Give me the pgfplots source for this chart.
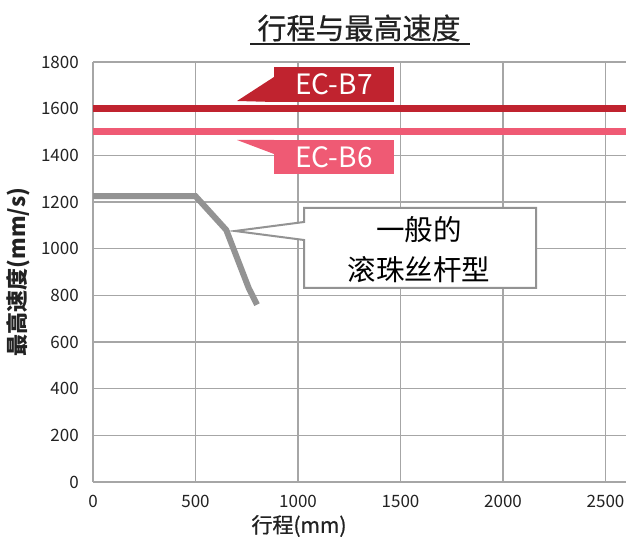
\documentclass[border=0pt]{standalone}
\usepackage{fontspec}
\setmainfont{Noto Sans CJK SC}
\newfontfamily\medfont[FakeBold=0.7]{Noto Sans CJK SC}
\usepackage{pgfplots}
\pgfplotsset{compat=1.18}
\definecolor{gridc}{HTML}{A6A6A6}
\definecolor{ecb7}{HTML}{C0232F}
\definecolor{ecb6}{HTML}{EF5A74}
\definecolor{greyl}{HTML}{939393}
\definecolor{txt}{HTML}{222222}
\begin{document}
\begin{tikzpicture}[x=1bp,y=1bp]
\path[use as bounding box] (0,0) rectangle (628,542);
\begin{axis}[
  scale only axis, width=533bp, height=420bp,
  at={(93bp,60bp)}, anchor=south west,
  xmin=0, xmax=2600, ymin=0, ymax=1800,
  xtick={0,500,...,2500}, ytick={0,200,...,1800},
  grid=major, major grid style={color=gridc, line width=1.3bp},
  axis x line=bottom, axis y line=left,
  axis line style={-, color=gridc, line width=1.3bp},
  major tick length=0pt,
  /pgf/number format/assume math mode=true,
  /pgf/number format/1000 sep={},
  tick label style={font=\fontsize{17bp}{20bp}\selectfont, text=txt},
  yticklabel style={inner sep=0pt, anchor=east, xshift=-14bp},
  xticklabel style={inner sep=0pt, anchor=north, yshift=-13bp},
  clip=false,
]
\addplot[ecb7, line width=7bp] coordinates {(0,1600) (2600,1600)};
\addplot[ecb6, line width=7bp] coordinates {(0,1500) (2600,1500)};
\addplot[greyl, line width=6bp, line join=miter, line cap=butt] coordinates {(0,1225) (500,1225) (650,1080) (760,830) (800,760)};
\end{axis}
% title
\node[text=txt, font=\fontsize{29bp}{32bp}\medfont] at (359,514) {行程与最高速度};
\draw[txt, line width=2bp] (250,498) -- (470,498);
% axis labels
\node[text=txt, font=\fontsize{21bp}{24bp}\medfont] at (299,16) {行程(mm)};
\node[text=txt, rotate=90, font=\fontsize{22bp}{24bp}\selectfont\bfseries] at (18,270) {最高速度(mm/s)};
% EC-B7 label
\fill[ecb7] (237,441) -- (274,465) -- (274,440) -- cycle;
\fill[ecb7] (274,440) rectangle (394,475);
\node[text=white, font=\fontsize{28bp}{30bp}\selectfont] at (334,457.5) {EC-B7};
% EC-B6 label
\fill[ecb6] (237,402) -- (274,402) -- (274,388) -- cycle;
\fill[ecb6] (274,368) rectangle (394,402);
\node[text=white, font=\fontsize{28bp}{30bp}\selectfont] at (334,385) {EC-B6};
% callout
\draw[fill=white, draw=greyl, line width=2bp, line join=miter]
  (304,334) -- (536,334) -- (536,254) -- (304,254) -- (304,302) -- (235,311) -- (304,320) -- cycle;
\node[text=black, font=\fontsize{28.5bp}{30bp}\selectfont] at (419,312) {一般的};
\node[text=black, font=\fontsize{28.5bp}{30bp}\selectfont] at (419,272) {滚珠丝杆型};
\end{tikzpicture}
\end{document}
